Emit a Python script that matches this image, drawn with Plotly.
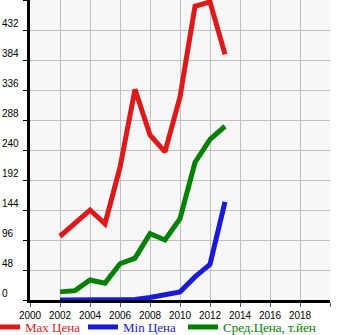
import plotly.graph_objects as go

years = [2002, 2003, 2004, 2005, 2006, 2007, 2008, 2009, 2010, 2011, 2012, 2013]
max_price = [102, 124, 144, 122, 212, 337, 264, 237, 325, 470, 477, 393]
min_price = [0, 0, 0, 1, 1, 1, 4, 9, 13, 37, 57, 157]
avg_price = [13, 15, 32, 27, 58, 67, 106, 96, 130, 220, 257, 278]

x_ticks = list(range(2000, 2021, 2))
x_labels = [str(v) if v < 2020 else "" for v in x_ticks]
y_ticks = list(range(0, 481, 48))

W, H = 345, 335
ML, MR, MT, MB = 30, 15, 0, 35
PLOT_W = W - ML - MR

series = [
    ("Max Цена", max_price, "#dd1a1a", "legend", -15),
    ("Min Цена", min_price, "#1a1ad8", "legend2", 83),
    ("Сред.Цена, т.йен", avg_price, "#008000", "legend3", 183),
]

fig = go.Figure()
legend_layout = {}
for name, values, color, leg, left_px in series:
    fig.add_trace(go.Scatter(
        x=years, y=values, name=name, mode="lines",
        line=dict(color=color, width=5), legend=leg,
    ))
    # one single-entry legend per series, laid out in a row under the axis
    legend_layout[leg] = dict(
        orientation="h", xref="paper", yref="container",
        x=(left_px - ML) / PLOT_W, y=8 / H, xanchor="left", yanchor="middle",
        font=dict(family="Liberation Serif", size=13, color=color),
        itemwidth=30, tracegroupgap=0,
        bgcolor="rgba(0,0,0,0)",
    )

# y tick labels, left aligned at the page edge, sitting just above each grid line
for v in y_ticks[:-1]:
    fig.add_annotation(
        x=0, xref="paper", xshift=-ML, y=v, yref="y",
        text=str(v), showarrow=False, xanchor="left", yanchor="bottom",
        yshift=-1,
        font=dict(family="Liberation Sans", size=10, color="#000000"),
    )

fig.update_layout(
    width=W, height=H,
    margin=dict(l=ML, r=MR, t=MT, b=MB, autoexpand=False),
    paper_bgcolor="#ffffff",
    plot_bgcolor="#f7f7f7",
    showlegend=True,
    xaxis=dict(
        range=[2000, 2020], tickvals=x_ticks, ticktext=x_labels,
        showgrid=True, gridcolor="#c0c0c0", gridwidth=1,
        showline=True, linecolor="#000000", linewidth=3,
        ticks="outside", ticklen=4, tickcolor="#555555",
        tickfont=dict(family="Liberation Sans", size=10, color="#000000"),
        zeroline=False, fixedrange=True, automargin=False,
    ),
    yaxis=dict(
        range=[0, 480], tickvals=y_ticks, showticklabels=False,
        showgrid=True, gridcolor="#c0c0c0", gridwidth=1,
        showline=True, linecolor="#000000", linewidth=3,
        ticks="outside", ticklen=4, tickcolor="#000000",
        zeroline=False, fixedrange=True, automargin=False,
    ),
    **legend_layout,
)

fig.write_html("out.html", config={"displayModeBar": False})
